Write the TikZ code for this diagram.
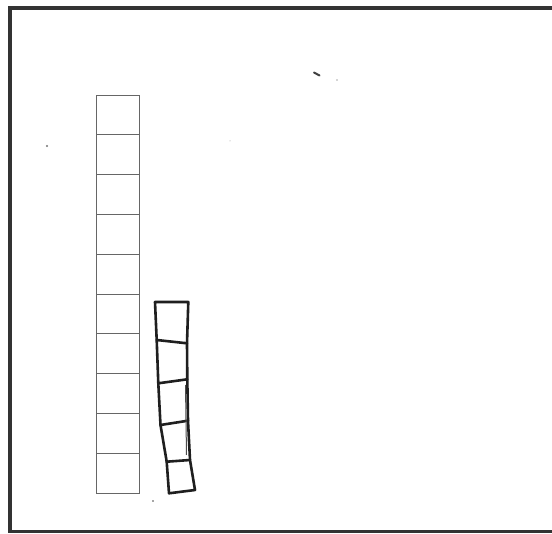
\documentclass[tikz,border=0pt]{standalone}
\begin{document}
\begin{tikzpicture}[x=1pt,y=-1pt,
  cell/.style={draw=black!60, line width=0.8pt, minimum width=43pt, minimum height=39.8pt, inner sep=0pt, outer sep=0pt},
  frameline/.style={draw=black!80, line cap=rect},
  hand/.style={draw=black!88, line width=2.6pt, line join=round, line cap=round},
  speck/.style={fill=black!70}]
\useasboundingbox (0,0) rectangle (552,534);
\fill[white] (0,0) rectangle (552,534);
% frame (runs off the right edge)
\draw[frameline, line width=4pt] (552,8.5) -- (10,8.5) -- (10,531);
\draw[frameline, line width=3pt] (10,531.5) -- (552,531.5);
% ruled column of ten squares
\foreach \i in {0,...,9} {
  \node[cell] (c\i) at (118, {95+19.9+39.8*\i}) {};
}
% hand-drawn column of five squares
\coordinate (l0) at (155,302);   \coordinate (r0) at (188.3,302);
\coordinate (l1) at (156.7,340); \coordinate (r1) at (187,343.3);
\coordinate (l2) at (158.3,383.3); \coordinate (r2) at (187.3,379.3);
\coordinate (l3) at (160.5,425); \coordinate (r3) at (188,420.7);
\coordinate (l4) at (166.7,461.7); \coordinate (r4) at (190,460);
\coordinate (l5) at (169,493.3); \coordinate (r5) at (195,490);
\draw[hand] (l0) -- (r0) -- (r1) -- (r2) -- (r3) -- (r4) -- (r5) -- (l5) -- (l4) -- (l3) -- (l2) -- (l1) -- cycle;
\draw[hand] (l1) -- (r1);
\draw[hand] (l2) -- (r2);
\draw[hand] (l3) -- (r3);
\draw[hand] (l4) -- (r4);
\draw[draw=black!70, line width=1pt] (185.5,385) -- (186.5,455);
% scan specks
\draw[black!75, line width=2pt, line cap=round] (314,72.5) -- (319.5,75.5);
\fill[speck] (337,80) circle (0.7);
\fill[black!55] (47,146) circle (1.1);
\fill[speck] (153,501) circle (0.9);
\fill[black!40] (230,141) circle (0.5);
\end{tikzpicture}
\end{document}
